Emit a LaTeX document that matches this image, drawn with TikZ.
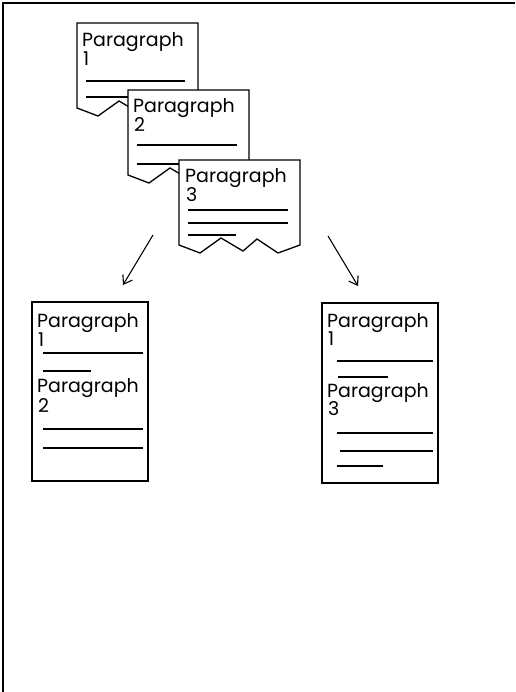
\documentclass[tikz,border=0pt]{standalone}
\usepackage{fontspec}
\setmainfont{Poppins}
\usetikzlibrary{arrows.meta}
\tikzset{
  frameline/.style={line width=2pt},
  torn/.pic={
    \path[draw,fill=white,line width=1.3pt,line join=miter]
      (0,0) -- (121,0) -- (121,85) -- (99,93) -- (78,79) -- (64,91)
      -- (42,78) -- (21,93) -- (0,85) -- cycle;
  },
  sheet/.style={draw,line width=1.3pt},
  txt/.style={anchor=base west,inner sep=0pt,font=\fontsize{19}{19}\selectfont},
  rule/.style={line width=1.1pt},
  split/.style={line width=1.1pt,-{Straight Barb[length=8pt,width=11pt,line width=1.1pt]}}
}
\begin{document}
\begin{tikzpicture}[x=1pt,y=-1pt]
\useasboundingbox (0,0) rectangle (515,692);
% page frame
\draw[frameline] (3,692) -- (3,3) -- (515,3);

% stacked torn sheets
\pic at (77,23) {torn};
\node[txt] (p1a) at (82,47) {Paragraph};
\node[txt] (p1b) at (83,66) {1};
\draw[rule] (86,81) -- (185,81);
\draw[rule] (86,97) -- (128,97);

\pic at (128,90) {torn};
\node[txt] (p2a) at (133,113) {Paragraph};
\node[txt] (p2b) at (134,132) {2};
\draw[rule] (137,145) -- (237,145);
\draw[rule] (137,164) -- (179,164);

\pic at (179,160) {torn};
\node[txt] (p3a) at (185,183) {Paragraph};
\node[txt] (p3b) at (186,202) {3};
\draw[rule] (188,210) -- (288,210);
\draw[rule] (188,223) -- (288,223);
\draw[rule] (188,235) -- (236,235);

% split arrows
\coordinate (la) at (153,235);
\coordinate (lb) at (123,285);
\coordinate (ra) at (328,236);
\coordinate (rb) at (358,286);
\draw[split] (la) -- (lb);
\draw[split] (ra) -- (rb);

% left result sheet
\draw[sheet] (32,302) rectangle (148,481);
\node[txt] (l1a) at (37,327) {Paragraph};
\node[txt] (l1b) at (38,346) {1};
\draw[rule] (43,353) -- (143,353);
\draw[rule] (43,371) -- (91,371);
\node[txt] (l2a) at (37,392) {Paragraph};
\node[txt] (l2b) at (38,412) {2};
\draw[rule] (43,429) -- (143,429);
\draw[rule] (43,448) -- (143,448);

% right result sheet
\draw[sheet] (322,303) rectangle (438,483);
\node[txt] (r1a) at (327,327) {Paragraph};
\node[txt] (r1b) at (328,345) {1};
\draw[rule] (337,361) -- (433,361);
\draw[rule] (338,377) -- (388,377);
\node[txt] (r3a) at (327,397) {Paragraph};
\node[txt] (r3b) at (328,415) {3};
\draw[rule] (337,433) -- (433,433);
\draw[rule] (340,451) -- (433,451);
\draw[rule] (337,466) -- (383,466);
\end{tikzpicture}
\end{document}
